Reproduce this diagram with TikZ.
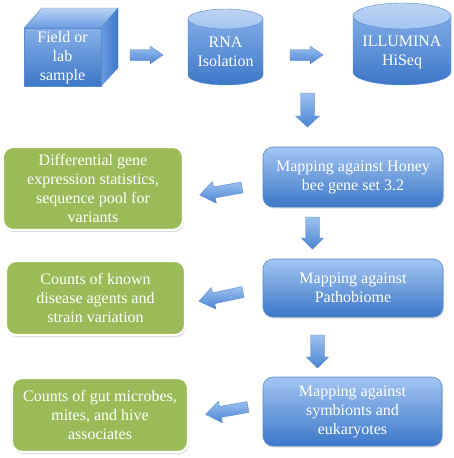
\documentclass[tikz,border=0pt]{standalone}
\usepackage{fontspec}
\setmainfont{Liberation Serif}
\usetikzlibrary{shadows}
\definecolor{bluetop}{HTML}{A3C5F2}
\definecolor{bluemid}{HTML}{6A9CE2}
\definecolor{bluebot}{HTML}{3C77C8}
\definecolor{blueedge}{HTML}{5A8BCB}
\definecolor{cyltop}{HTML}{BCD3F2}
\definecolor{greenfill}{HTML}{9BBB59}
\definecolor{arrowtop}{HTML}{9CC0EE}
\definecolor{arrowbot}{HTML}{4A85D3}
\begin{document}
\begin{tikzpicture}[x=1pt,y=-1pt,
  txt/.style={text=white, font=\fontsize{16}{19}\selectfont, align=center},
  bluebox/.style={rectangle, rounded corners=10pt, draw=blueedge, line width=0.6pt,
    top color=bluetop, middle color=bluemid, bottom color=bluebot, inner sep=0pt,
    drop shadow={opacity=0.25, shadow xshift=1pt, shadow yshift=-1.5pt}, txt},
  greenbox/.style={rectangle, rounded corners=10pt, draw=white, line width=2.2pt,
    fill=greenfill, inner sep=0pt,
    drop shadow={opacity=0.3, shadow xshift=1pt, shadow yshift=-2pt}, txt},
  arrowshade/.style={top color=arrowtop, bottom color=arrowbot, draw=blueedge, line width=0.4pt},
  pics/barrow/.style args={#1/#2/#3/#4}{code={
    \shade[arrowshade] (0,-#2) -- ({#1-#4},-#2) -- ({#1-#4},-#3) -- (#1,0)
      -- ({#1-#4},#3) -- ({#1-#4},#2) -- (0,#2) -- cycle;}}
]
\useasboundingbox (0,0) rectangle (454,458);
\fill[white] (0,0) rectangle (454,458);

% cube
\shade[top color=cyltop, bottom color=bluemid, draw=blueedge, line width=0.4pt]
  (24,28) -- (42,8) -- (118,8) -- (101,28) -- cycle;
\shade[left color=bluemid, right color=bluebot, draw=blueedge, line width=0.4pt]
  (101,28) -- (118,8) -- (118,68) -- (101,86) -- cycle;
\shade[top color=bluemid!80!white, bottom color=bluebot, draw=blueedge, line width=0.4pt]
  (24,28) rectangle (101,86);
\node[txt] (sample) at (62.5,58) {Field or\\lab\\sample};

% RNA cylinder
\shade[top color=bluemid!85!white, bottom color=bluebot, draw=blueedge, line width=0.4pt]
  (188,19) -- (188,75) arc[start angle=180, end angle=0, x radius=37.5, y radius=10]
  -- (263,19) -- cycle;
\shade[top color=cyltop, bottom color=bluetop, draw=blueedge, line width=0.4pt]
  (225.5,19) ellipse[x radius=37.5, y radius=10];
\node[txt] (rna) at (225.5,52) {RNA\\Isolation};

% ILLUMINA cylinder
\shade[top color=bluemid!85!white, bottom color=bluebot, draw=blueedge, line width=0.4pt]
  (353,16) -- (353,72) arc[start angle=180, end angle=0, x radius=49, y radius=13]
  -- (451,16) -- cycle;
\shade[top color=cyltop, bottom color=bluetop, draw=blueedge, line width=0.4pt]
  (402,16) ellipse[x radius=49, y radius=13];
\node[txt] (illumina) at (402,52) {ILLUMINA\\HiSeq};

% blue boxes
\node[bluebox, minimum width=180pt, minimum height=60pt] (map1) at (353,177)
  {Mapping against Honey\\bee gene set 3.2};
\node[bluebox, minimum width=180pt, minimum height=58pt] (map2) at (353,288)
  {Mapping against\\Pathobiome};
\node[bluebox, minimum width=179pt, minimum height=69pt] (map3) at (352.5,411.5)
  {Mapping against\\symbionts and\\eukaryotes};

% green boxes
\node[greenbox, minimum width=180pt, minimum height=83pt] (res1) at (93,188.5)
  {Differential gene\\expression statistics,\\sequence pool for\\variants};
\node[greenbox, minimum width=179pt, minimum height=74pt] (res2) at (95.5,298)
  {Counts of known\\disease agents and\\strain variation};
\node[greenbox, minimum width=176pt, minimum height=74pt] (res3) at (100,415)
  {Counts of gut microbes,\\mites, and hive\\associates};

% block arrows
\pic at (130,55) {barrow=33/5.5/9/13};
\pic at (290,55) {barrow=33/5.5/9/13};
\pic[rotate=-90] at (307.5,93) {barrow=34/7/12/11};
\pic[rotate=-90] at (312.5,217) {barrow=32/7/11/11};
\pic[rotate=-90] at (317.5,335) {barrow=33/7/11/11};
\pic[rotate=190] at (242,187.5) {barrow=43/5.5/11/15};
\pic[rotate=192] at (243,292) {barrow=45/5.5/11/15};
\pic[rotate=190] at (248,407) {barrow=43/5.5/11/15};
\end{tikzpicture}
\end{document}
